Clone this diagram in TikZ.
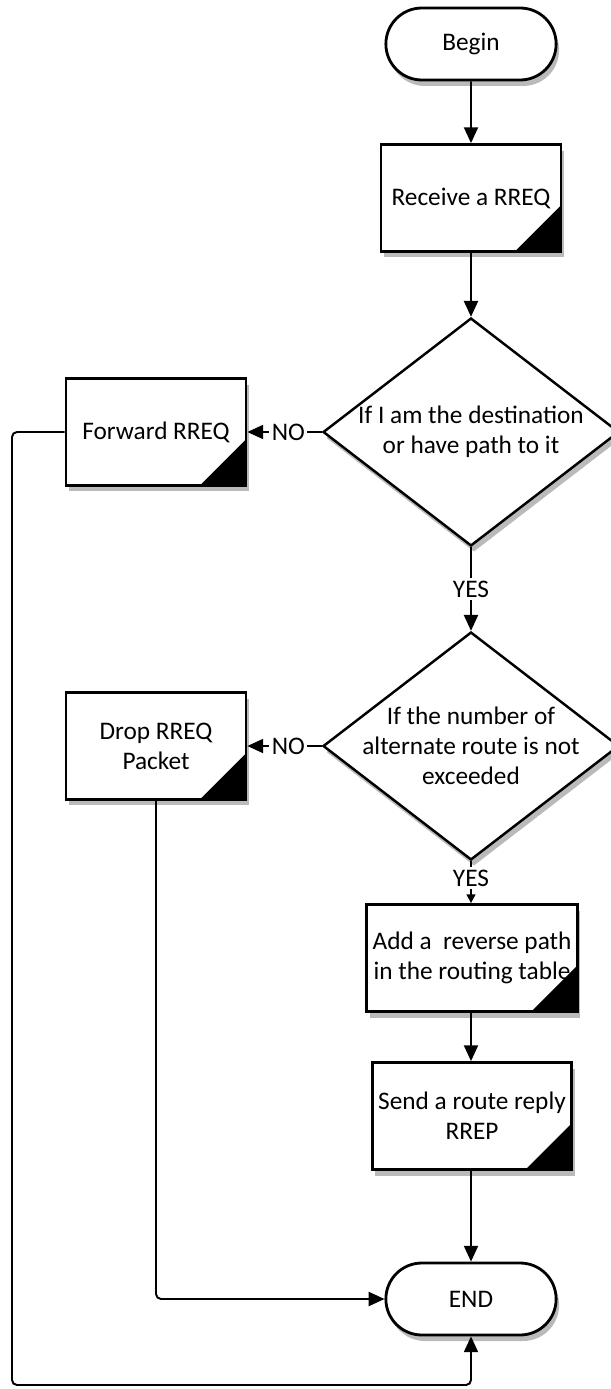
\documentclass[tikz,border=0pt]{standalone}
\usepackage{fontspec}
\setmainfont{Carlito}
\usetikzlibrary{arrows.meta, shapes.geometric, shapes.misc, shadows}

\tikzset{
  boxshadow/.style={drop shadow={shadow xshift=0.06cm, shadow yshift=-0.12cm, opacity=0.45, fill=black!60}},
  term/.style={rounded rectangle, draw, line width=1.6pt, fill=white, minimum width=3.64cm, minimum height=1.44cm, boxshadow},
  proc/.style={rectangle, draw, line width=1.6pt, fill=white, minimum width=3.6cm, minimum height=2.14cm, align=center, boxshadow,
    path picture={\fill[black] (path picture bounding box.south east) -- ++(-0.92cm,0) -- ++(0.92cm,0.92cm) -- cycle;}},
  decision/.style={diamond, draw, line width=1.4pt, fill=white, minimum width=5.92cm, minimum height=4.56cm, inner sep=0pt, boxshadow},
  arr/.style={-{Triangle[length=9pt,width=8pt]}, line width=1.1pt},
  tag/.style={fill=white, inner sep=1.5pt}
}

\begin{document}
\begin{tikzpicture}[x=0.02cm, y=-0.02cm, font=\fontsize{14.4}{17}\selectfont]
  \useasboundingbox (0,0) rectangle (611,1389);
  % main column
  \node[term] (begin) at (471,44) {Begin};
  \node[proc] (recv) at (471,198) {Receive a RREQ};
  \node[decision, label={[align=center]center:If I am the destination\\or have path to it}] (dest) at (471,432) {};
  \node[decision, label={[align=center]center:If the number of\\alternate route is not\\exceeded}] (alt) at (471,746) {};
  \node[proc, minimum width=3.52cm] (addp) at (472,958) {Add a \ reverse path\\in the routing table};
  \node[proc, minimum width=3.52cm] (send) at (472,1116) {Send a route reply\\RREP};
  \node[term] (endn) at (471,1299) {END};
  % side boxes
  \node[proc] (fwd) at (156,432) {Forward RREQ};
  \node[proc] (drop) at (156,746) {Drop RREQ\\Packet};
  \coordinate (back) at (12,1385);

  % connectors
  \draw[arr] (begin) -- (recv);
  \draw[arr] (recv) -- (dest);
  \draw[arr] (dest.west) -- node[tag, pos=0.45]{NO} (fwd.east);
  \draw[arr] (dest.south) -- node[tag]{YES} (alt.north);
  \draw[arr] (alt.west) -- node[tag, pos=0.45]{NO} (drop.east);
  \draw[-{Triangle[length=5pt,width=5pt]}, line width=1.1pt] (alt.south) -- node[tag, pos=0.4]{YES} (alt.south |- addp.north);
  \draw[arr] (addp.south -| endn) -- (send.north -| endn);
  \draw[arr] (send.south -| endn) -- (endn);
  \draw[arr, rounded corners=0.1cm] (drop.south) |- (endn.west);
  \draw[arr, rounded corners=0.1cm] (fwd.west) -| (back) -| (endn.south);
\end{tikzpicture}
\end{document}
